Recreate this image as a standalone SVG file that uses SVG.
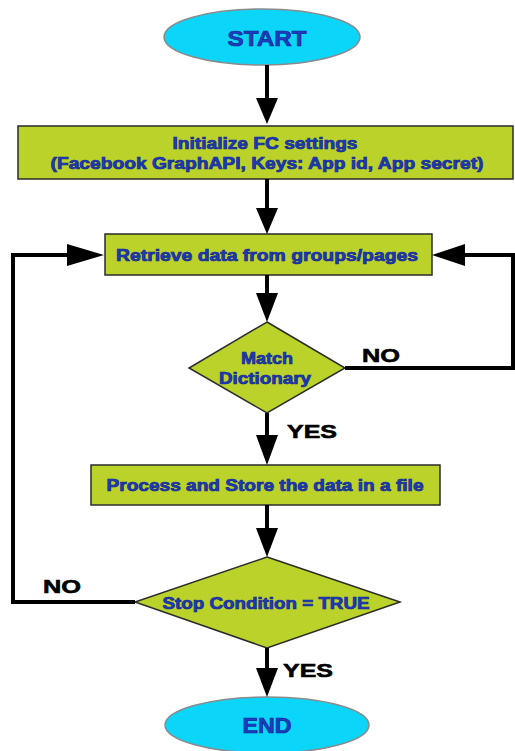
<svg xmlns="http://www.w3.org/2000/svg" width="515" height="751" viewBox="0 0 515 751">
<style>
.term{fill:#0bd6fa;stroke:#8a8a8a;stroke-width:1.5}
.proc{fill:#bbd22a;stroke:#2b2b2b;stroke-width:1.5}
.t{font-family:"Liberation Sans",Arial,sans-serif;font-weight:bold;fill:#1b3cc4;stroke:#13288a;stroke-width:0.7;text-anchor:middle;dominant-baseline:central}
.lbl{font-family:"Liberation Sans",Arial,sans-serif;font-weight:bold;fill:#000;stroke:#000;stroke-width:0.6;font-size:19px}
.c{fill:none;stroke:#000;stroke-width:4}
.ah{fill:#000}
</style>
<g id="start">
<ellipse class="term" cx="262" cy="37" rx="98" ry="28"/>
<text class="t" x="267" y="38" font-size="22" textLength="79" lengthAdjust="spacingAndGlyphs">START</text>
</g>
<g id="init">
<rect class="proc" x="18" y="126" width="495" height="53"/>
<text class="t" x="265" y="143" font-size="16" textLength="185" lengthAdjust="spacingAndGlyphs">Initialize FC settings</text>
<text class="t" x="267" y="163" font-size="16" textLength="433" lengthAdjust="spacingAndGlyphs">(Facebook GraphAPI, Keys: App id, App secret)</text>
</g>
<g id="retrieve">
<rect class="proc" x="105" y="234" width="327" height="41"/>
<text class="t" x="267" y="255" font-size="16" textLength="302" lengthAdjust="spacingAndGlyphs">Retrieve data from groups/pages</text>
</g>
<g id="match">
<polygon class="proc" points="267,322 345,368 267,413 189,368"/>
<text class="t" x="267" y="358" font-size="16" textLength="52" lengthAdjust="spacingAndGlyphs">Match</text>
<text class="t" x="265" y="378" font-size="16" textLength="92" lengthAdjust="spacingAndGlyphs">Dictionary</text>
</g>
<g id="process">
<rect class="proc" x="91" y="465" width="349" height="40"/>
<text class="t" x="265" y="485" font-size="16" textLength="317" lengthAdjust="spacingAndGlyphs">Process and Store the data in a file</text>
</g>
<g id="stop">
<polygon class="proc" points="267,557 400,602 267,648 135,602"/>
<text class="t" x="266" y="603" font-size="16" textLength="207" lengthAdjust="spacingAndGlyphs">Stop Condition = TRUE</text>
</g>
<g id="end">
<ellipse class="term" cx="267" cy="725" rx="102" ry="28"/>
<text class="t" x="267" y="725" font-size="22" textLength="49" lengthAdjust="spacingAndGlyphs">END</text>
</g>
<g id="connectors">
<line class="c" x1="267" y1="65" x2="267" y2="100"/>
<polygon class="ah" points="256,98 278,98 267,124"/>
<line class="c" x1="267" y1="179" x2="267" y2="210"/>
<polygon class="ah" points="256,208 278,208 267,234"/>
<line class="c" x1="267" y1="275" x2="267" y2="295"/>
<polygon class="ah" points="256,293 278,293 267,322"/>
<line class="c" x1="267" y1="413" x2="267" y2="437"/>
<polygon class="ah" points="256,435 278,435 267,465"/>
<line class="c" x1="267" y1="505" x2="267" y2="530"/>
<polygon class="ah" points="256,528 278,528 267,557"/>
<line class="c" x1="267" y1="648" x2="267" y2="670"/>
<polygon class="ah" points="256,668 278,668 267,697"/>
<polyline class="c" points="345,368 513,368 513,255 462,255"/>
<polygon class="ah" points="465,244 465,266 432,255"/>
<polyline class="c" points="135,602 13,602 13,255 70,255"/>
<polygon class="ah" points="67,244 67,266 104,255"/>
<text class="lbl" x="362" y="362" textLength="38" lengthAdjust="spacingAndGlyphs">NO</text>
<text class="lbl" x="287" y="438" textLength="50" lengthAdjust="spacingAndGlyphs">YES</text>
<text class="lbl" x="43" y="593" textLength="38" lengthAdjust="spacingAndGlyphs">NO</text>
<text class="lbl" x="283" y="677" textLength="50" lengthAdjust="spacingAndGlyphs">YES</text>
</g>
</svg>
